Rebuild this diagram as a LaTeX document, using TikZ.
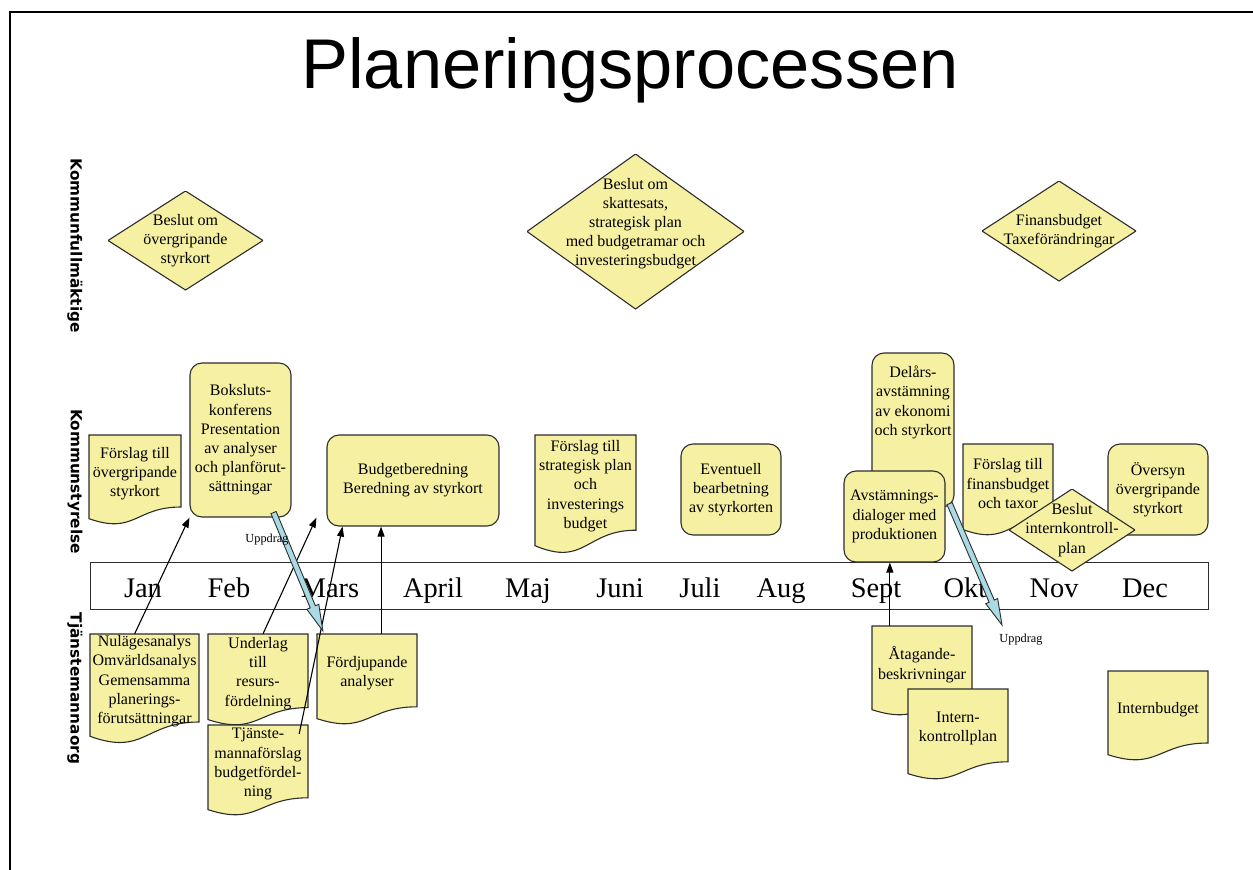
\documentclass[tikz,border=0pt]{standalone}
\usepackage{fontspec}
\setmainfont{Liberation Serif}
\setsansfont{Liberation Sans}
\newfontfamily\sidfont{DejaVu Sans}
\usetikzlibrary{positioning,calc,arrows.meta}

\definecolor{gulfyll}{RGB}{246,241,162}
\definecolor{ramlinje}{RGB}{45,45,45}
\definecolor{ljusbla}{RGB}{170,218,228}

\tikzset{
  brodtext/.style={font=\fontsize{16}{19.2}\selectfont, align=center, inner sep=0pt},
  ruta/.style={brodtext, draw=ramlinje, fill=gulfyll, line width=1.1pt, rounded corners=12pt},
  romb/.style={brodtext, path picture={
      \filldraw[draw=ramlinje, fill=gulfyll, line width=1.1pt]
        (path picture bounding box.north) -- (path picture bounding box.east) --
        (path picture bounding box.south) -- (path picture bounding box.west) -- cycle;}},
  dokram/.style={draw=ramlinje, fill=gulfyll, line width=1.1pt},
  pil/.style={draw=black, line width=1.1pt, -{Triangle[length=10pt,width=7pt]}},
  blapil/.style={draw=ramlinje, fill=ljusbla, line width=0.9pt},
  manad/.style={font=\fontsize{28.4}{32}\selectfont, anchor=base},
  sidorubrik/.style={font=\sidfont\bfseries\fontsize{15.3}{18}\selectfont, rotate=-90},
  uppdrag/.style={font=\fontsize{12.3}{14}\selectfont},
}

% dokument: namn, vänster, topp, bredd, höjd, text
\newcommand{\dokument}[6]{%
  \begin{scope}[shift={(#2,#3)}]
    \filldraw[dokram] (0,0) -- (#4,0) -- (#4,0.80*#5)
      .. controls (0.5*#4,0.80*#5) and (0.5*#4,1.11*#5) .. (0,0.93*#5) -- cycle;
    \node[brodtext, minimum width=#4pt, minimum height=0.86*#5pt] (#1) at (0.5*#4,0.43*#5) {#6};
  \end{scope}}

% blå uppdragspil: start, spets
\newcommand{\uppdragpil}[2]{%
  \path ($(#2)!26pt!(#1)$) coordinate (pilbas);
  \filldraw[blapil] ($(#1)!2.8pt!90:(#2)$) -- ($(pilbas)!2.8pt!-90:(#1)$)
    -- ($(pilbas)!6.5pt!-90:(#1)$) -- (#2) -- ($(pilbas)!6.5pt!90:(#1)$)
    -- ($(pilbas)!2.8pt!90:(#1)$) -- ($(#1)!2.8pt!-90:(#2)$) -- cycle;}

\begin{document}
\begin{tikzpicture}[x=1pt, y=-1pt]
  \useasboundingbox (0,0) rectangle (1253,870);
  % ram och rubrik
  \draw[line width=2pt] (1253,12) -- (10,12) -- (10,870);
  \node[font=\sffamily\fontsize{70.4}{74}\selectfont, anchor=base] (rubrik) at (630,88) {Planeringsprocessen};
  % radrubriker
  \node[sidorubrik] (kf) at (75,245.5) {Kommunfullmäktige};
  \node[sidorubrik] (ks) at (75,481.5) {Kommunstyrelse};
  \node[sidorubrik] (tj) at (75,688.5) {Tjänstemannaorg};

  % tidslinje med månader
  \node[draw=ramlinje, line width=1pt, minimum width=1118pt, minimum height=47pt, inner sep=0pt] (tidslinje) at (649,585.5) {};
  \foreach \m/\x in {Jan/143, Feb/229, Mars/330, April/433, Maj/528, Juni/620, Juli/700, Aug/781, Sept/876, Okt/965, Nov/1054, Dec/1145}
    \node[manad] (\m) at (\x,597) {\m};

  % kommunfullmäktige
  \node[romb, minimum width=155pt, minimum height=99pt] (styrkortbeslut) at (185.5,240.5) {Beslut om\\övergripande\\styrkort};
  \node[romb, minimum width=217pt, minimum height=155pt] (skattebeslut) at (635.5,231.5) {Beslut om\\skattesats,\\strategisk plan\\med budgetramar och\\investeringsbudget\\ \mbox{}};
  \node[romb, minimum width=154pt, minimum height=100pt] (finansbeslut) at (1059,231) {Finansbudget\\Taxeförändringar};

  % kommunstyrelse
  \dokument{forslagstyr}{89}{435}{92}{90}{Förslag till\\övergripande\\styrkort}
  \node[ruta, minimum width=101pt, minimum height=154pt] (boks) at (240.5,440) {Boksluts-\\konferens\\Presentation\\av analyser\\och planförut-\\sättningar};
  \node[ruta, minimum width=172pt, minimum height=91pt] (bud) at (413,480.5) {Budgetberedning\\Beredning av styrkort};
  \dokument{strategisk}{535}{435}{101}{119}{Förslag till\\strategisk plan\\och\\investerings\\budget}
  \node[ruta, minimum width=100pt, minimum height=91pt] (event) at (731,489.5) {Eventuell\\bearbetning\\av styrkorten};
  \node[ruta, minimum width=82pt, minimum height=154pt] (delars) at (913,430) {};
  \node[brodtext] (delarstext) at (913,402.5) {Delårs-\\avstämning\\av ekonomi\\och styrkort};
  \node[ruta, minimum width=101pt, minimum height=91pt] (avst) at (894.5,516.5) {Avstämnings-\\dialoger med\\produktionen};
  \dokument{finans}{963}{444}{90}{92}{Förslag till\\finansbudget\\och taxor}
  \node[ruta, minimum width=100pt, minimum height=91pt] (oversyn) at (1158,489.5) {Översyn\\övergripande\\styrkort};
  \node[romb, minimum width=126pt, minimum height=82pt] (internbeslut) at (1072,530) {Beslut\\internkontroll-\\plan};

  % tjänstemannaorganisation
  \dokument{nul}{90}{634}{109}{110}{Nulägesanalys\\Omvärldsanalys\\Gemensamma\\planerings-\\förutsättningar}
  \dokument{underlag}{208}{634}{100}{92}{Underlag\\till\\resurs-\\fördelning}
  \dokument{tjansteman}{208}{725}{100}{91}{Tjänste-\\mannaförslag\\budgetfördel-\\ning}
  \dokument{fordjup}{317}{634}{100}{91}{Fördjupande\\analyser}
  \dokument{atagande}{872}{626}{100}{90}{Åtagande-\\beskrivningar}
  \dokument{internplan}{908}{689}{100}{91}{Intern-\\kontrollplan}
  \dokument{internbudget}{1108}{671}{100}{90}{Internbudget}

  % pilar
  \draw[pil] ($(nul.north west)!0.41!(nul.north east)$) -- (boks.south west);
  \draw[pil] ($(underlag.north west)!0.55!(underlag.north east)$) -- ($(bud.south west)+(-10,-9)$);
  \draw[pil] ($(tjansteman.north east)+(-9,9)$) -- ($(bud.south west)!0.093!(bud.south east)$);
  \draw[pil] ($(fordjup.north west)!0.64!(fordjup.north east)$) coordinate (fstart) -- (fstart |- bud.south);
  \draw[pil] ($(atagande.north west)!0.18!(atagande.north east)$) coordinate (astart) -- (astart |- avst.south);

  % uppdrag
  \coordinate (upp1start) at ($(boks.south east)+(-18,-5)$);
  \coordinate (upp1slut) at ($(fordjup.north west)+(6,-3)$);
  \uppdragpil{upp1start}{upp1slut}
  \node[uppdrag] (uppdrag1) at (267,540) {Uppdrag};
  \coordinate (upp2start) at ($(delars.south east)+(-5,-4)$);
  \coordinate (upp2slut) at (1002,625);
  \uppdragpil{upp2start}{upp2slut}
  \node[uppdrag] (uppdrag2) at (1021,640) {Uppdrag};
\end{tikzpicture}
\end{document}
